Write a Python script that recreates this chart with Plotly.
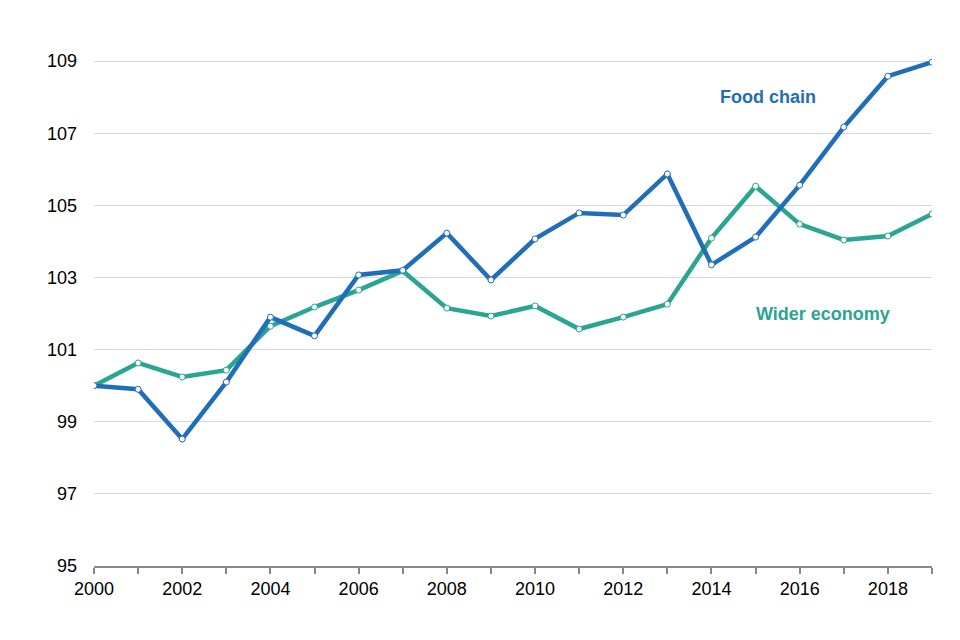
import plotly.graph_objects as go

years = list(range(2000, 2020))
food_chain = [100.0, 99.9, 98.52, 100.1, 101.9, 101.38, 103.07, 103.2, 104.23, 102.93,
              104.07, 104.79, 104.73, 105.87, 103.35, 104.12, 105.56, 107.17, 108.58, 108.97]
wider_economy = [100.0, 100.63, 100.24, 100.43, 101.65, 102.18, 102.65, 103.18, 102.15, 101.93,
                 102.21, 101.57, 101.9, 102.26, 104.09, 105.53, 104.48, 104.04, 104.15, 104.76]
tick_years = list(range(2000, 2020, 2))
y_ticks = [95, 97, 99, 101, 103, 105, 107, 109]

BLUE = "#1F6EB7"
TEAL = "#2AA592"

fig = go.Figure()
fig.add_trace(go.Scatter(x=years, y=wider_economy, mode="lines+markers", name="Wider economy",
                         line=dict(color=TEAL, width=4.5),
                         marker=dict(size=6, color="white", line=dict(color=TEAL, width=1))))
fig.add_trace(go.Scatter(x=years, y=food_chain, mode="lines+markers", name="Food chain",
                         line=dict(color=BLUE, width=4.5),
                         marker=dict(size=6, color="white", line=dict(color=BLUE, width=1))))

fig.add_annotation(x=2015.28, y=108.0, text="<b>Food chain</b>", showarrow=False,
                   font=dict(family="Liberation Sans, Arial", size=18, color=BLUE))
fig.add_annotation(x=2016.53, y=101.99, text="<b>Wider economy</b>", showarrow=False,
                   font=dict(family="Liberation Sans, Arial", size=18, color=TEAL))

fig.update_layout(
    width=960, height=640,
    margin=dict(l=86, r=36, t=17, b=82),
    plot_bgcolor="white", paper_bgcolor="white",
    showlegend=False,
    font=dict(family="Liberation Sans, Arial", size=18, color="black"),
    xaxis=dict(range=[2000, 2019], tickmode="array", tickvals=years,
               ticktext=[str(y) if y in tick_years else "" for y in years],
               showgrid=False, showline=True, linecolor="#888888", linewidth=1.5,
               ticks="outside", ticklen=6, tickcolor="#888888", tickwidth=1.5,
               zeroline=False, tickfont=dict(size=18)),
    yaxis=dict(range=[95, 110], tickmode="array", tickvals=y_ticks,
               showgrid=True, gridcolor="#D9D9D9", gridwidth=1,
               showline=False, zeroline=False, ticks="", ticklabelstandoff=16,
               tickfont=dict(size=18)),
)

fig.write_html("out.html")
